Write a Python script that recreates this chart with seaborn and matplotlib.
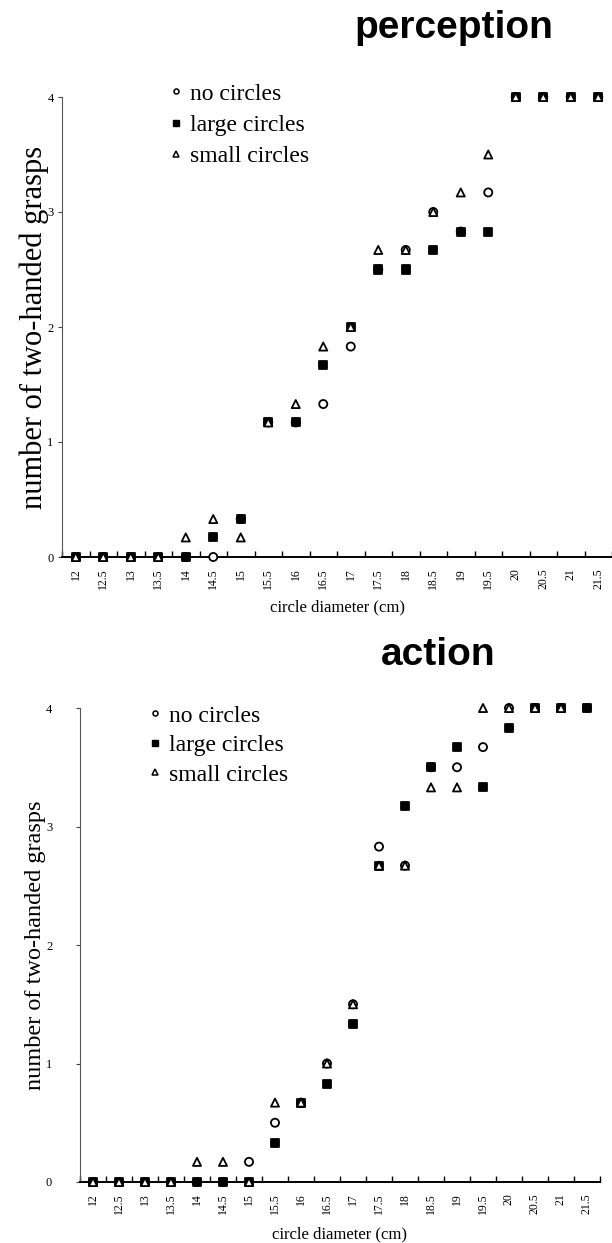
import numpy as np
import pandas as pd
import matplotlib
matplotlib.use('Agg')
import matplotlib.pyplot as plt
from matplotlib.lines import Line2D
import seaborn as sns

# DATA
diameters = ['12', '12.5', '13', '13.5', '14', '14.5', '15', '15.5', '16', '16.5',
             '17', '17.5', '18', '18.5', '19', '19.5', '20', '20.5', '21', '21.5']
conditions = ['no circles', 'large circles', 'small circles']

perc_none = [0, 0, 0, 0, 0, 0, 0.33, 1.17, 1.17, 1.33,
             1.83, 2.5, 2.67, 3.0, 2.83, 3.17, 4, 4, 4, 4]
perc_large = [0, 0, 0, 0, 0, 0.17, 0.33, 1.17, 1.17, 1.67,
              2.0, 2.5, 2.5, 2.67, 2.83, 2.83, 4, 4, 4, 4]
perc_small = [0, 0, 0, 0, 0.17, 0.33, 0.17, 1.17, 1.33, 1.83,
              2.0, 2.67, 2.67, 3.0, 3.17, 3.5, 4, 4, 4, 4]

act_none = [0, 0, 0, 0, 0, 0, 0.17, 0.5, 0.67, 1.0,
            1.5, 2.83, 2.67, 3.5, 3.5, 3.67, 4, 4, 4, 4]
act_large = [0, 0, 0, 0, 0, 0, 0, 0.33, 0.67, 0.83,
             1.33, 2.67, 3.17, 3.5, 3.67, 3.33, 3.83, 4, 4, 4]
act_small = [0, 0, 0, 0, 0.17, 0.17, 0, 0.67, 0.67, 1.0,
             1.5, 2.67, 2.67, 3.33, 3.33, 4, 4, 4, 4, np.nan]


def long_table(none, large, small):
    df = pd.DataFrame({
        'diameter': diameters * 3,
        'grasps': none + large + small,
        'condition': [c for c in conditions for _ in diameters],
    })
    return df.dropna()


sns.set_style('white')
plt.rcParams['font.family'] = ['Liberation Serif', 'DejaVu Serif']
plt.rcParams['text.color'] = 'black'
plt.rcParams['axes.labelcolor'] = 'black'
plt.rcParams['xtick.color'] = 'black'
plt.rcParams['ytick.color'] = 'black'

W, H = 612, 1243
fig = plt.figure(figsize=(W / 100, H / 100), dpi=100)

palette = {'no circles': 'white', 'large circles': 'black', 'small circles': 'white'}
markers = {'no circles': 'o', 'large circles': 's', 'small circles': '^'}


def panel(rect, df, ylab_size, ylab_x, ytick_pad, leg_xy, leg_space):
    # rect in pixels: left, right, top(value 4), bottom(value 0)
    l, r, t, b = rect
    ax = fig.add_axes([l / W, 1 - b / H, (r - l) / W, (b - t) / H])
    sns.scatterplot(data=df, x='diameter', y='grasps', hue='condition',
                    style='condition', palette=palette, markers=markers,
                    s=34, edgecolor='black', linewidth=1.3, legend=False,
                    clip_on=False, zorder=3, ax=ax)
    ax.set_xlim(-0.5, len(diameters) - 0.5)
    ax.set_ylim(0, 4)
    ax.set_xticks(range(len(diameters)))
    ax.set_xticklabels(diameters, rotation=90, fontsize=8.5)
    ax.set_xticks(np.arange(-0.5, len(diameters), 1), minor=True)
    ax.tick_params(axis='x', which='major', length=0, pad=8)
    ax.tick_params(axis='x', which='minor', direction='in', length=4,
                   width=1, color='black', bottom=True)
    ax.set_yticks([0, 1, 2, 3, 4])
    ax.tick_params(axis='y', length=3, width=0.8, color='#444444',
                   pad=ytick_pad, labelsize=9, left=True)
    for s in ['top', 'right']:
        ax.spines[s].set_visible(False)
    ax.spines['left'].set_color('#555555')
    ax.spines['left'].set_linewidth(0.8)
    ax.spines['bottom'].set_color('black')
    ax.spines['bottom'].set_linewidth(1.4)

    ax.set_ylabel('number of two-handed grasps', fontsize=ylab_size)
    ax.yaxis.label.set_verticalalignment('center')
    ax.yaxis.set_label_coords((ylab_x - l) / (r - l), 0.5)
    ax.set_xlabel('circle diameter (cm)', fontsize=12)
    ax.xaxis.label.set_verticalalignment('center')

    handles = [
        Line2D([], [], ls='', marker='o', ms=3.6, mfc='white', mec='black', mew=1.1),
        Line2D([], [], ls='', marker='s', ms=4.2, mfc='black', mec='black', mew=1.0),
        Line2D([], [], ls='', marker='^', ms=4.2, mfc='white', mec='black', mew=1.1),
    ]
    ax.legend(handles, conditions, loc='upper left',
              bbox_to_anchor=(leg_xy[0] / W, 1 - leg_xy[1] / H),
              bbox_transform=fig.transFigure, frameon=False, fontsize=17,
              borderpad=0, borderaxespad=0, handlelength=0.6,
              handletextpad=0.3, labelspacing=leg_space)
    return ax


ax1 = panel((62, 612, 97, 557), long_table(perc_none, perc_large, perc_small),
            22, 34, 3, (169, 83), 0.42)
ax1.xaxis.set_label_coords(0.5, -50 / 460)

ax2 = panel((80, 600, 708, 1182), long_table(act_none, act_large, act_small),
            17.5, 36, 17, (148, 705), 0.34)
ax2.xaxis.set_label_coords(0.5, -52 / 474)

fig.text(454 / W, 1 - 38 / H, 'perception', ha='center', va='baseline',
         fontsize=28, fontweight='bold', family='Liberation Sans')
fig.text(438 / W, 1 - 665 / H, 'action', ha='center', va='baseline',
         fontsize=28, fontweight='bold', family='Liberation Sans')

fig.savefig('out.png', dpi=100)
